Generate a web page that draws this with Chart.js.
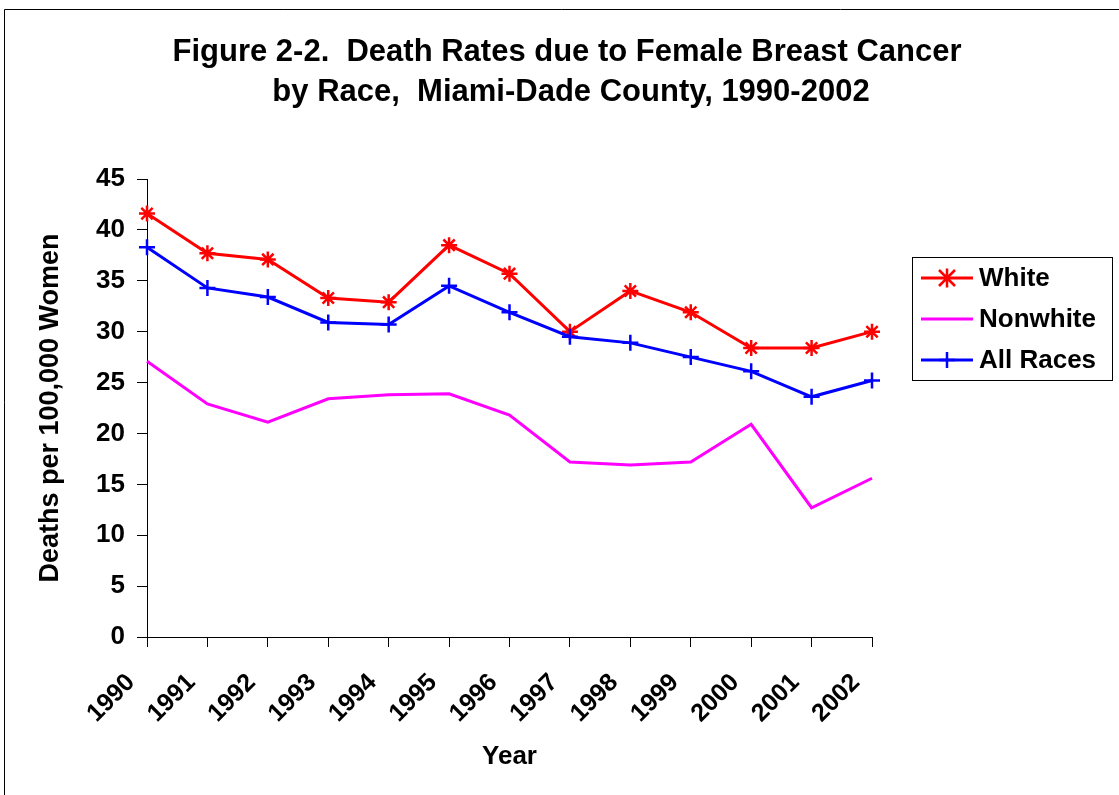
<!DOCTYPE html>
<html>
<head>
<meta charset="utf-8">
<title>Figure 2-2</title>
<script src="https://cdn.jsdelivr.net/npm/chart.js@4.4.0/dist/chart.umd.min.js"></script>
<style>
    body { margin: 0; background: #fff; }
    #wadah { width: 1119px; height: 795px; }
</style>
</head>
<body>
<div id="wadah">
    <canvas id="grafik" width="1119" height="795"></canvas>
</div>
<script>
// data
const tahun = ['1990', '1991', '1992', '1993', '1994', '1995', '1996', '1997', '1998', '1999', '2000', '2001', '2002'];
const white = [41.6, 37.7, 37.1, 33.3, 32.9, 38.5, 35.7, 30.0, 34.0, 31.9, 28.4, 28.4, 30.0];
const nonwhite = [27.1, 22.9, 21.1, 23.4, 23.8, 23.9, 21.8, 17.2, 16.9, 17.2, 20.9, 12.7, 15.6];
const allRaces = [38.3, 34.3, 33.4, 30.9, 30.7, 34.5, 31.9, 29.5, 28.9, 27.5, 26.1, 23.6, 25.2];
const namaSeri = ['White', 'Nonwhite', 'All Races'];
const yMin = 0;
const yMax = 45;
const yStep = 5;

const judul = ['Figure 2-2.  Death Rates due to Female Breast Cancer', 'by Race,  Miami-Dade County, 1990-2002'];
const judulY = 'Deaths per 100,000 Women';
const judulX = 'Year';

const FONT = 'Arial, "Liberation Sans", sans-serif';

function gambarMarker(ctx, gaya, x, y, r) {
    ctx.beginPath();
    if (gaya === 'star') {
        ctx.moveTo(x - r, y - r); ctx.lineTo(x + r, y + r);
        ctx.moveTo(x - r, y + r); ctx.lineTo(x + r, y - r);
        ctx.moveTo(x, y - r * 1.2); ctx.lineTo(x, y + r * 1.2);
    } else if (gaya === 'cross') {
        ctx.moveTo(x, y - r); ctx.lineTo(x, y + r);
        ctx.moveTo(x - r, y); ctx.lineTo(x + r, y);
    }
    ctx.stroke();
}

// latar putih + bingkai luar
const bingkaiPlugin = {
    id: 'bingkai',
    beforeDraw(chart) {
        const ctx = chart.ctx;
        ctx.save();
        ctx.fillStyle = '#fff';
        ctx.fillRect(0, 0, chart.width, chart.height);
        ctx.strokeStyle = '#000';
        ctx.lineWidth = 1;
        ctx.beginPath();
        ctx.moveTo(4.5, chart.height);
        ctx.lineTo(4.5, 9.5);
        ctx.lineTo(chart.width, 9.5);
        ctx.stroke();
        ctx.restore();
    }
};

// judul dua baris
const judulPlugin = {
    id: 'judul',
    afterDraw(chart) {
        const ctx = chart.ctx;
        ctx.save();
        ctx.fillStyle = '#000';
        ctx.font = 'bold 31px ' + FONT;
        ctx.textAlign = 'center';
        ctx.textBaseline = 'middle';
        ctx.fillText(judul[0], 567, 52);
        ctx.fillText(judul[1], 571, 92);
        ctx.restore();
    }
};

// legenda di kanan, pakai kotak
const legendaPlugin = {
    id: 'legenda',
    afterDraw(chart) {
        const ctx = chart.ctx;
        ctx.save();
        ctx.fillStyle = '#fff';
        ctx.fillRect(912.5, 257.5, 200, 123);
        ctx.strokeStyle = '#000';
        ctx.lineWidth = 1;
        ctx.strokeRect(912.5, 257.5, 200, 123);

        chart.data.datasets.forEach(function(ds, i) {
            let y = 278 + i * 41;
            ctx.strokeStyle = ds.borderColor;
            ctx.lineWidth = ds.borderWidth;
            ctx.beginPath();
            ctx.moveTo(921, y);
            ctx.lineTo(973, y);
            ctx.stroke();
            if (ds.pointRadius > 0) {
                ctx.lineWidth = ds.pointBorderWidth;
                gambarMarker(ctx, ds.pointStyle, 947, y, ds.pointRadius);
            }
            ctx.fillStyle = '#000';
            ctx.font = 'bold 26px ' + FONT;
            ctx.textAlign = 'left';
            ctx.textBaseline = 'middle';
            ctx.fillText(ds.label, 979, y + 1);
        });
        ctx.restore();
    }
};

const ctx = document.getElementById('grafik').getContext('2d');
const grafik = new Chart(ctx, {
    type: 'line',
    data: {
        labels: tahun,
        datasets: [
            {
                label: namaSeri[0],
                data: white,
                borderColor: '#ff0000',
                backgroundColor: '#ff0000',
                borderWidth: 3,
                pointStyle: 'star',
                pointRadius: 8,
                pointBorderWidth: 2.5,
                pointBorderColor: '#ff0000',
                tension: 0,
                clip: false,
                order: 2
            },
            {
                label: namaSeri[1],
                data: nonwhite,
                borderColor: '#ff00ff',
                backgroundColor: '#ff00ff',
                borderWidth: 3,
                pointRadius: 0,
                tension: 0,
                clip: false,
                order: 1
            },
            {
                label: namaSeri[2],
                data: allRaces,
                borderColor: '#0000ff',
                backgroundColor: '#0000ff',
                borderWidth: 3,
                pointStyle: 'cross',
                pointRadius: 8,
                pointBorderWidth: 2.5,
                pointBorderColor: '#0000ff',
                tension: 0,
                clip: false,
                order: 0
            }
        ]
    },
    options: {
        responsive: false,
        animation: false,
        layout: {
            padding: { left: 34, right: 247, top: 179, bottom: 23 }
        },
        plugins: {
            legend: { display: false },
            title: { display: false },
            tooltip: { enabled: false }
        },
        scales: {
            x: {
                offset: false,
                afterFit: function(scale) {
                    scale.height = 135;
                    scale.paddingLeft = 0;
                    scale.paddingRight = 0;
                },
                grid: {
                    display: true,
                    drawOnChartArea: false,
                    drawTicks: true,
                    tickLength: 10,
                    color: '#000'
                },
                border: { display: true, color: '#000', width: 1 },
                ticks: {
                    color: '#000',
                    font: { family: FONT, size: 25, weight: 'bold' },
                    maxRotation: 45,
                    minRotation: 45,
                    autoSkip: false,
                    padding: 21,
                    labelOffset: -16
                },
                title: {
                    display: true,
                    text: judulX,
                    color: '#000',
                    font: { family: FONT, size: 26, weight: 'bold' },
                    padding: 0
                }
            },
            y: {
                min: yMin,
                max: yMax,
                afterFit: function(scale) {
                    scale.width = 113;
                    scale.paddingTop = 0;
                    scale.paddingBottom = 0;
                },
                grid: {
                    display: true,
                    drawOnChartArea: false,
                    drawTicks: true,
                    tickLength: 10,
                    color: '#000'
                },
                border: { display: true, color: '#000', width: 1 },
                ticks: {
                    stepSize: yStep,
                    color: '#000',
                    font: { family: FONT, size: 26, weight: 'bold' },
                    padding: 12
                },
                title: {
                    display: true,
                    text: judulY,
                    color: '#000',
                    font: { family: FONT, size: 27, weight: 'bold' },
                    padding: 0
                }
            }
        }
    },
    plugins: [bingkaiPlugin, judulPlugin, legendaPlugin]
});
</script>
</body>
</html>
